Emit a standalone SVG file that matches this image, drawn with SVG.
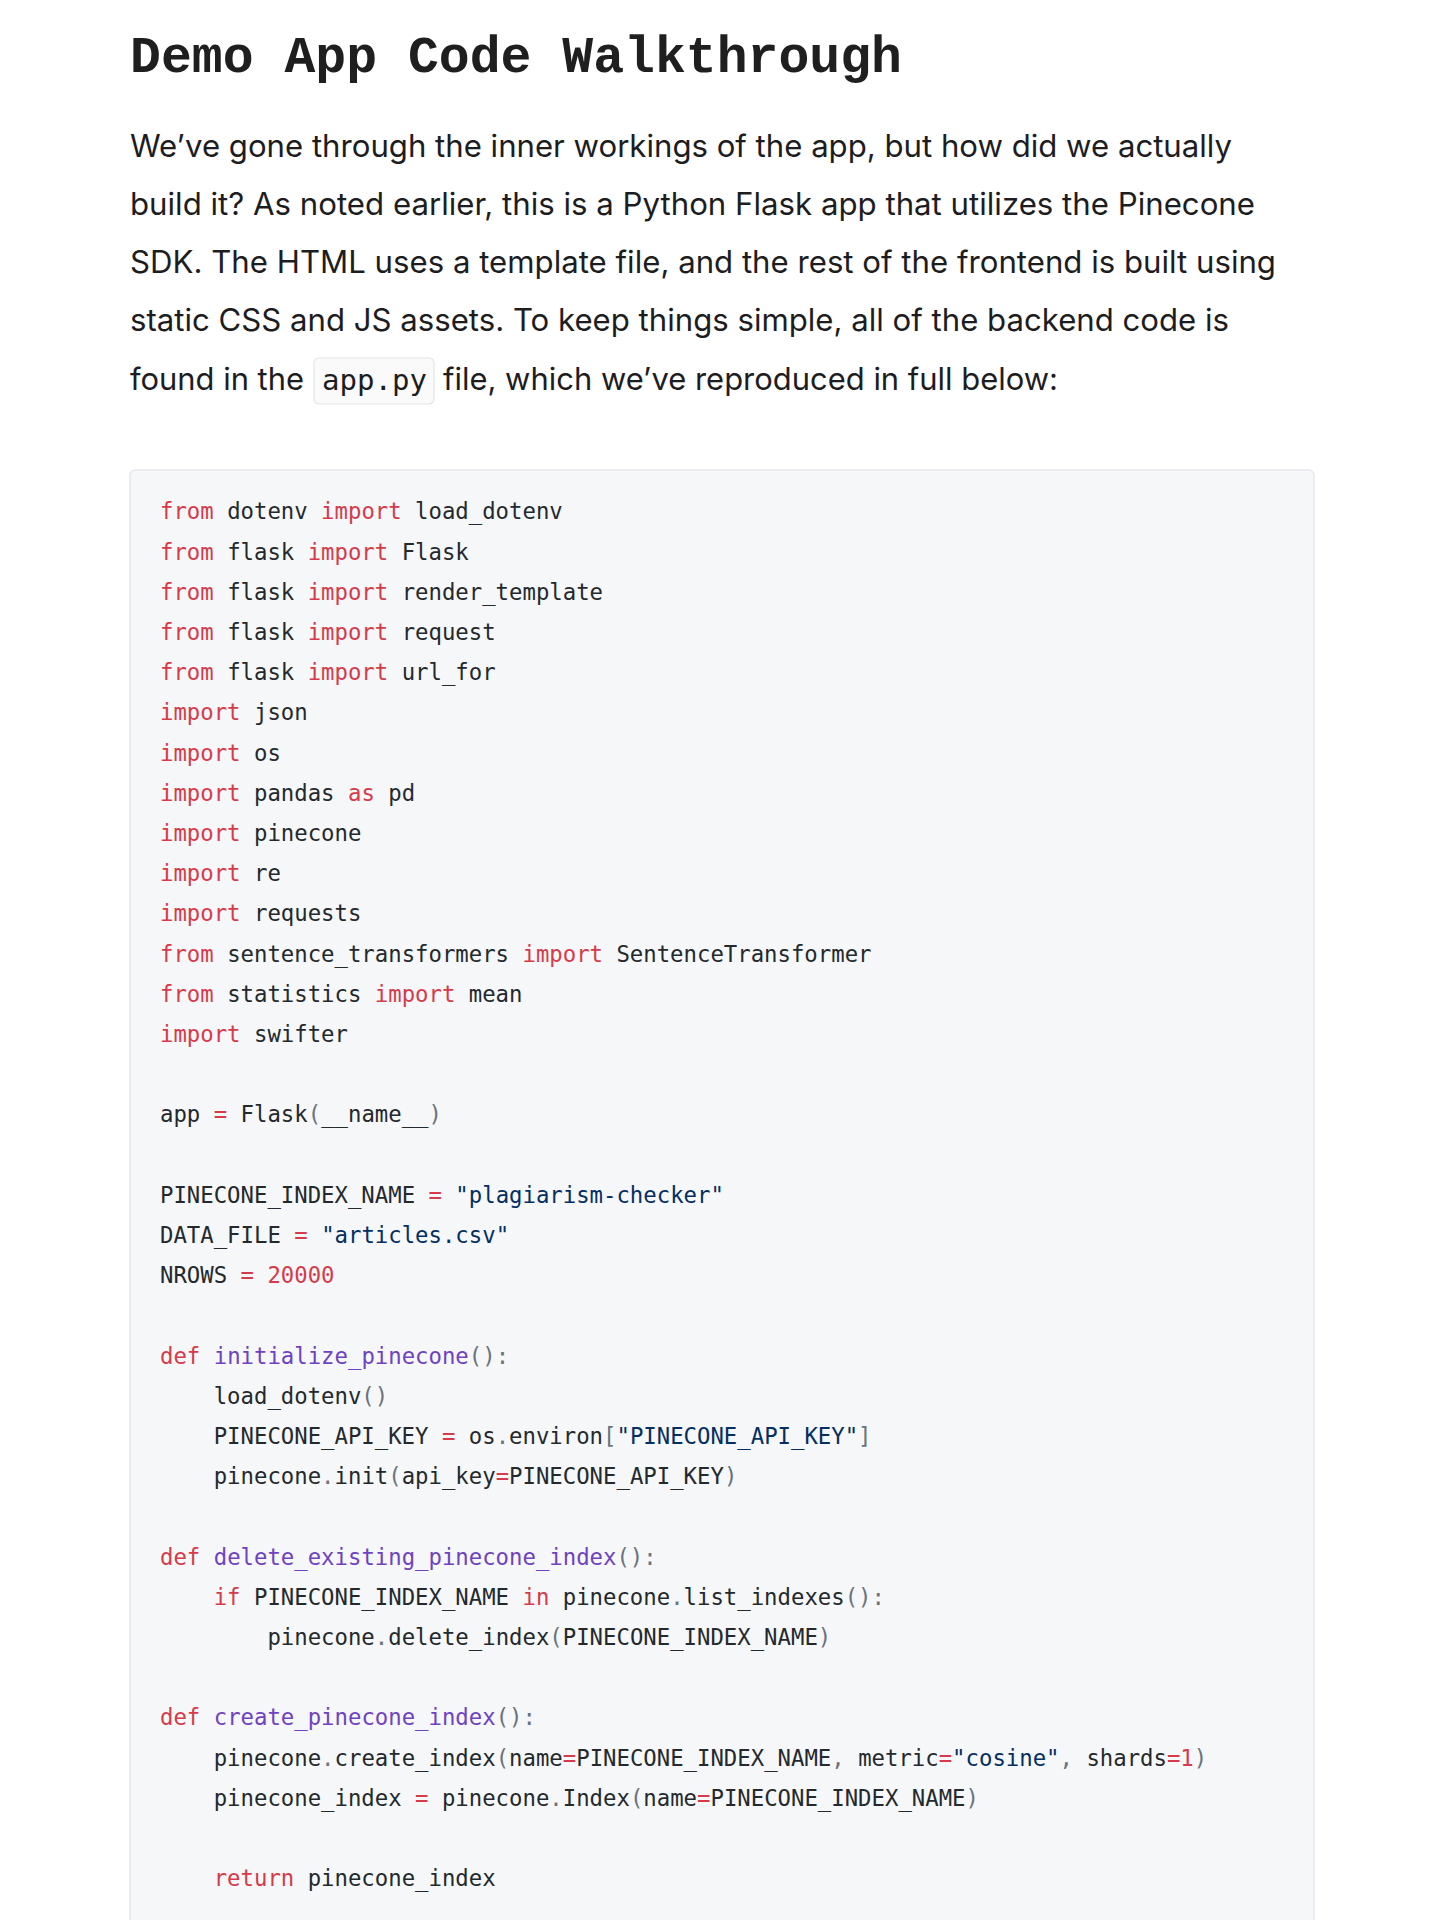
<svg xmlns="http://www.w3.org/2000/svg" width="1432" height="1920" viewBox="0 0 1432 1920">
<style>
.title{font-family:"Liberation Mono","DejaVu Sans Mono",monospace;font-weight:bold;font-size:51.5px;fill:#1f1f1f}
.body{font-family:"Inter","Liberation Sans",sans-serif;font-size:31px;fill:#1d1d1f}
.ic{font-family:"DejaVu Sans Mono","Liberation Mono",monospace;font-size:29px;fill:#1d1d1f}
.code{font-family:"DejaVu Sans Mono","Liberation Mono",monospace;font-size:22.3px;fill:#24292e;white-space:pre}
.k{fill:#d73a49}.o{fill:#d73a49}.n{fill:#d73a49}.f{fill:#6f42c1}.s{fill:#032f62}.p{fill:#6a737d}
</style>
<rect x="0" y="0" width="1432" height="1920" fill="#ffffff"/>
<g id="heading">
<text class="title" x="130" y="72" textLength="772" lengthAdjust="spacingAndGlyphs">Demo App Code Walkthrough</text>
</g>
<g id="paragraph">
<text class="body" x="130" y="157" textLength="1102" lengthAdjust="spacingAndGlyphs">We’ve gone through the inner workings of the app, but how did we actually</text>
<text class="body" x="130" y="215" textLength="1125" lengthAdjust="spacingAndGlyphs">build it? As noted earlier, this is a Python Flask app that utilizes the Pinecone</text>
<text class="body" x="130" y="273" textLength="1146" lengthAdjust="spacingAndGlyphs">SDK. The HTML uses a template file, and the rest of the frontend is built using</text>
<text class="body" x="130" y="331" textLength="1099" lengthAdjust="spacingAndGlyphs">static CSS and JS assets. To keep things simple, all of the backend code is</text>
<text class="body" x="130" y="390" textLength="174" lengthAdjust="spacingAndGlyphs">found in the</text>
<rect x="314" y="358" width="120" height="46" rx="5" fill="#fafafa" stroke="#e3e4e6" stroke-width="1.2"/>
<text class="ic" x="322" y="390" textLength="105" lengthAdjust="spacingAndGlyphs">app.py</text>
<text class="body" x="443" y="390" textLength="615" lengthAdjust="spacingAndGlyphs">file, which we’ve reproduced in full below:</text>
</g>
<g id="code-block">
<rect x="130" y="470" width="1184" height="1600" rx="5" fill="#f6f7f9" stroke="#e6e8eb" stroke-width="1.5"/>
<g class="code" xml:space="preserve">
<text x="160" y="519.3"><tspan class="k">from</tspan> dotenv <tspan class="k">import</tspan> load_dotenv</text>
<text x="160" y="559.5"><tspan class="k">from</tspan> flask <tspan class="k">import</tspan> Flask</text>
<text x="160" y="599.7"><tspan class="k">from</tspan> flask <tspan class="k">import</tspan> render_template</text>
<text x="160" y="639.9"><tspan class="k">from</tspan> flask <tspan class="k">import</tspan> request</text>
<text x="160" y="680.1"><tspan class="k">from</tspan> flask <tspan class="k">import</tspan> url_for</text>
<text x="160" y="720.3"><tspan class="k">import</tspan> json</text>
<text x="160" y="760.5"><tspan class="k">import</tspan> os</text>
<text x="160" y="800.7"><tspan class="k">import</tspan> pandas <tspan class="k">as</tspan> pd</text>
<text x="160" y="840.9"><tspan class="k">import</tspan> pinecone</text>
<text x="160" y="881.1"><tspan class="k">import</tspan> re</text>
<text x="160" y="921.3"><tspan class="k">import</tspan> requests</text>
<text x="160" y="961.5"><tspan class="k">from</tspan> sentence_transformers <tspan class="k">import</tspan> SentenceTransformer</text>
<text x="160" y="1001.7"><tspan class="k">from</tspan> statistics <tspan class="k">import</tspan> mean</text>
<text x="160" y="1041.9"><tspan class="k">import</tspan> swifter</text>
<text x="160" y="1122.3">app <tspan class="o">=</tspan> Flask<tspan class="p">(</tspan>__name__<tspan class="p">)</tspan></text>
<text x="160" y="1202.7">PINECONE_INDEX_NAME <tspan class="o">=</tspan> <tspan class="s">"plagiarism-checker"</tspan></text>
<text x="160" y="1242.9">DATA_FILE <tspan class="o">=</tspan> <tspan class="s">"articles.csv"</tspan></text>
<text x="160" y="1283.1">NROWS <tspan class="o">=</tspan> <tspan class="n">20000</tspan></text>
<text x="160" y="1363.5"><tspan class="k">def</tspan> <tspan class="f">initialize_pinecone</tspan><tspan class="p">():</tspan></text>
<text x="213.7" y="1403.7">load_dotenv<tspan class="p">()</tspan></text>
<text x="213.7" y="1443.9">PINECONE_API_KEY <tspan class="o">=</tspan> os<tspan class="p">.</tspan>environ<tspan class="p">[</tspan><tspan class="s">"PINECONE_API_KEY"</tspan><tspan class="p">]</tspan></text>
<text x="213.7" y="1484.1">pinecone<tspan class="p">.</tspan>init<tspan class="p">(</tspan>api_key<tspan class="o">=</tspan>PINECONE_API_KEY<tspan class="p">)</tspan></text>
<text x="160" y="1564.5"><tspan class="k">def</tspan> <tspan class="f">delete_existing_pinecone_index</tspan><tspan class="p">():</tspan></text>
<text x="213.7" y="1604.7"><tspan class="k">if</tspan> PINECONE_INDEX_NAME <tspan class="k">in</tspan> pinecone<tspan class="p">.</tspan>list_indexes<tspan class="p">():</tspan></text>
<text x="267.4" y="1644.9">pinecone<tspan class="p">.</tspan>delete_index<tspan class="p">(</tspan>PINECONE_INDEX_NAME<tspan class="p">)</tspan></text>
<text x="160" y="1725.3"><tspan class="k">def</tspan> <tspan class="f">create_pinecone_index</tspan><tspan class="p">():</tspan></text>
<text x="213.7" y="1765.5">pinecone<tspan class="p">.</tspan>create_index<tspan class="p">(</tspan>name<tspan class="o">=</tspan>PINECONE_INDEX_NAME<tspan class="p">,</tspan> metric<tspan class="o">=</tspan><tspan class="s">"cosine"</tspan><tspan class="p">,</tspan> shards<tspan class="o">=</tspan><tspan class="n">1</tspan><tspan class="p">)</tspan></text>
<text x="213.7" y="1805.7">pinecone_index <tspan class="o">=</tspan> pinecone<tspan class="p">.</tspan>Index<tspan class="p">(</tspan>name<tspan class="o">=</tspan>PINECONE_INDEX_NAME<tspan class="p">)</tspan></text>
<text x="213.7" y="1886.1"><tspan class="k">return</tspan> pinecone_index</text>
</g>
</g>
</svg>
